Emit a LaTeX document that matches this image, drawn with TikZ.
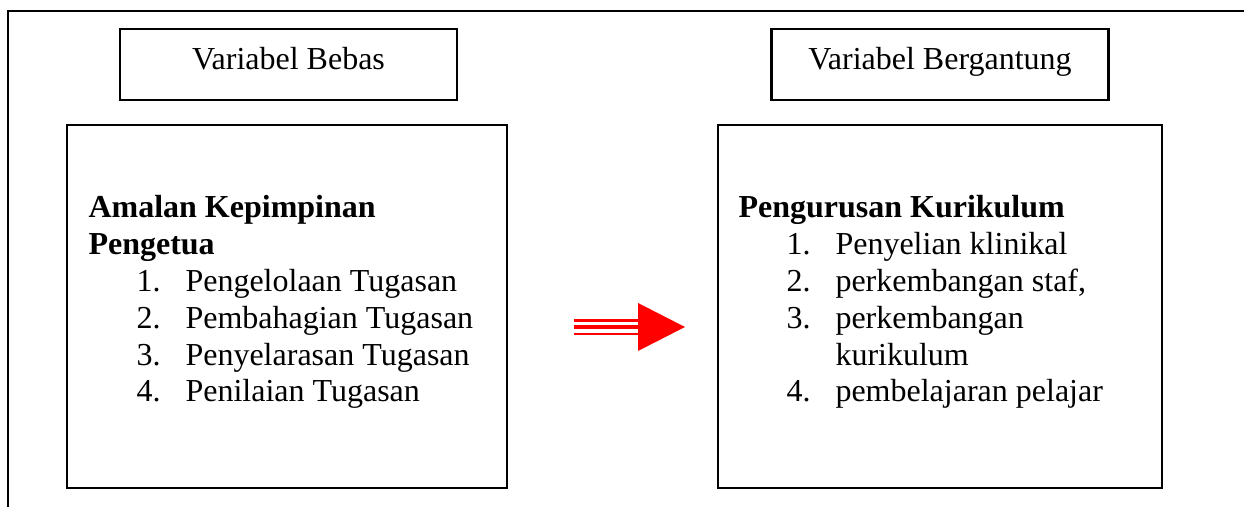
\documentclass[tikz,border=0pt]{standalone}
\usepackage{fontspec}
\setmainfont{Liberation Serif}
\usetikzlibrary{positioning,calc}

\tikzset{
  varbox/.style={draw,line width=.8pt,minimum width=126.4pt,minimum height=26.6pt,inner sep=0pt,
    text height=7pt,text depth=2.9pt},
  bigbox/.style={draw,line width=.8pt,minimum height=136.1pt,inner sep=0pt},
  txt/.style={anchor=base west,inner sep=0pt},
  judul/.style={txt,font=\fontsize{12}{13.75}\selectfont\bfseries}
}

\begin{document}
\begin{tikzpicture}[x=.375pt,y=-.375pt,font=\fontsize{12}{13.75}\selectfont]
\useasboundingbox (0,0) rectangle (1244,507);
% -- outer frame
\draw[line width=.8pt] (8,507) -- (8,11) -- (1244,11);
% -- define boxes
\node[varbox] (bebas) at (288.5,64.5) {Variabel Bebas};
\node[varbox] (gantung) at (940,64.5) {Variabel Bergantung};
\node[bigbox,minimum width=165pt] (kiri) at (287,306.5) {};
\node[bigbox,minimum width=166.5pt] (kanan) at (940,306.5) {};
% -- left box text
\node[judul] (amalan) at (88,218) {Amalan Kepimpinan};
\node[judul] (pengetua) at (88,255) {Pengetua};
\foreach \n/\t [count=\i] in {1/Pengelolaan Tugasan,2/Pembahagian Tugasan,3/Penyelarasan Tugasan,4/Penilaian Tugasan}{
  \node[txt] (kn\i) at (136,255+36.7*\i) {\n.};
  \node[txt] (kt\i) at (185,255+36.7*\i) {\t};
}
% -- right box text
\node[judul] (urus) at (738,218) {Pengurusan Kurikulum};
\node[txt] (rn1) at (786,255) {1.};
\node[txt] (rt1) at (835,255) {Penyelian klinikal};
\node[txt] (rn2) at (786,291.7) {2.};
\node[txt] (rt2) at (835,291.7) {perkembangan staf,};
\node[txt] (rn3) at (786,328.4) {3.};
\node[txt] (rt3) at (835,328.4) {perkembangan};
\node[txt] (rt3b) at (835,365.1) {kurikulum};
\node[txt] (rn4) at (786,401.8) {4.};
\node[txt] (rt4) at (835,401.8) {pembelajaran pelajar};
% -- striped arrow
\coordinate (ekor) at (574,327);
\coordinate (leher) at (638,327);
\coordinate (hujung) at (685,327);
\fill[red] ($(ekor)+(0,-7.7)$) rectangle ($(leher)+(0,-5.4)$);
\fill[red] ($(ekor)+(0,-2)$) rectangle ($(leher)+(0,2.3)$);
\fill[red] ($(ekor)+(0,5.6)$) rectangle ($(leher)+(0,8)$);
\fill[red] ($(leher)+(0,-24)$) -- (hujung) -- ($(leher)+(0,24)$) -- cycle;
\end{tikzpicture}
\end{document}
